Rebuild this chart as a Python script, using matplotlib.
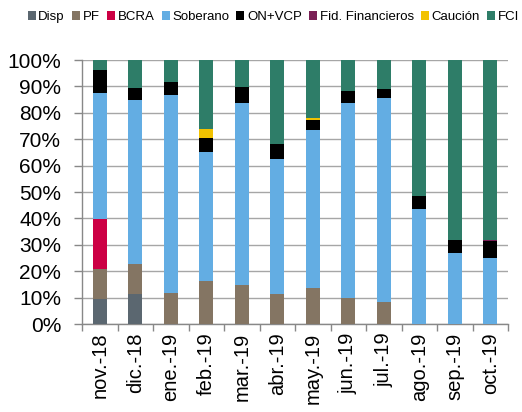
import numpy as np
import matplotlib.pyplot as plt
from matplotlib.ticker import PercentFormatter

months = ['nov.-18', 'dic.-18', 'ene.-19', 'feb.-19', 'mar.-19', 'abr.-19',
          'may.-19', 'jun.-19', 'jul.-19', 'ago.-19', 'sep.-19', 'oct.-19']

disp = [9.5, 11.2, 0, 0, 0, 0, 0, 0, 0, 0, 0, 0]
pf = [11.4, 11.5, 11.6, 16.1, 14.6, 11.5, 13.6, 9.7, 8.2, 0, 0, 0]
bcra = [18.9, 0, 0, 0, 0, 0, 0, 0, 0, 0, 0, 0]
soberano = [47.7, 62.0, 75.3, 48.9, 69.1, 51.1, 59.7, 74.2, 77.3, 43.7, 27.0, 25.0]
on_vcp = [8.6, 4.8, 4.9, 5.3, 5.9, 5.4, 3.8, 4.2, 3.5, 4.6, 4.7, 6.5]
fid = [0, 0, 0, 0, 0, 0, 0, 0, 0, 0.2, 0.2, 0.2]
caucion = [0, 0, 0, 3.7, 0, 0, 0.9, 0, 0, 0, 0, 0]

series = [('Disp', disp, '#5b6770'),
          ('PF', pf, '#847563'),
          ('BCRA', bcra, '#cc0044'),
          ('Soberano', soberano, '#63ade3'),
          ('ON+VCP', on_vcp, '#000000'),
          ('Fid. Financieros', fid, '#7a1f55'),
          ('Caución', caucion, '#f2c200'),
          ]
fci = [100 - sum(s[1][i] for s in series) for i in range(len(months))]
series.append(('FCI', fci, '#2e7d68'))

plt.rcParams['font.family'] = ['Liberation Sans', 'DejaVu Sans']

fig = plt.figure(figsize=(5.22, 4.12), dpi=100)
ax = fig.add_axes([82/522, 1 - 324/412, 426/522, 264/412])

x = np.arange(len(months))
bottom = np.zeros(len(months))
for name, vals, col in series:
    vals = np.array(vals)
    ax.bar(x, vals, 0.4, bottom=bottom, color=col, label=name, zorder=3)
    bottom += vals

ax.set_ylim(0, 100)
ax.set_xlim(-0.5, len(months) - 0.5)
ax.set_yticks(np.arange(0, 101, 10))
ax.yaxis.set_major_formatter(PercentFormatter(decimals=0))
ax.set_xticks(x)
ax.set_xticklabels(months, rotation=90)
ax.set_xticks(np.arange(-0.5, len(months)), minor=True)
ax.tick_params(axis='x', which='major', length=0, labelsize=14.5, pad=6)
ax.tick_params(axis='x', which='minor', length=5, color='#888888', width=1)
ax.tick_params(axis='y', length=6, color='#888888', width=1, labelsize=15, pad=9)
ax.grid(axis='y', color='#a6a6a6', lw=1, zorder=0)
for side in ['top', 'right']:
    ax.spines[side].set_visible(False)
for side in ['left', 'bottom']:
    ax.spines[side].set_color('#888888')
    ax.spines[side].set_linewidth(1)

fig.legend(loc='center', bbox_to_anchor=(273.5/522, 1 - 17/412), ncol=8, frameon=False,
           fontsize=9.5, handlelength=0.6, handleheight=0.6, handletextpad=0.2,
           columnspacing=0.55, borderaxespad=0, borderpad=0)

fig.savefig('out.png', dpi=100)
